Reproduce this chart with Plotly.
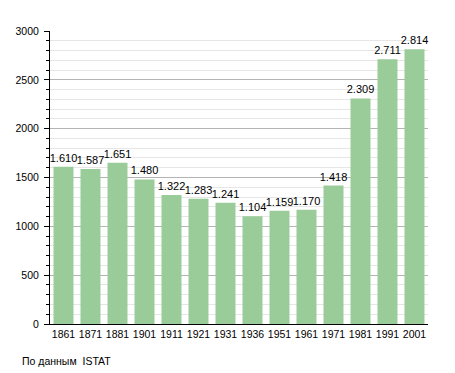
import plotly.graph_objects as go

years = ["1861", "1871", "1881", "1901", "1911", "1921", "1931", "1936", "1951", "1961", "1971", "1981", "1991", "2001"]
population = [1610, 1587, 1651, 1480, 1322, 1283, 1241, 1104, 1159, 1170, 1418, 2309, 2711, 2814]
labels = [f"{v:,}".replace(",", ".") for v in population]

fig = go.Figure(go.Bar(
    x=years, y=population, text=labels, textposition="outside",
    textfont=dict(size=11, color="black"),
    constraintext="none",
    marker=dict(color="#99cc99", line=dict(width=0)),
    cliponaxis=False,
))

# page body has an 8px margin; figure is sized/offset to compensate
fig.update_layout(
    width=447, height=365,
    margin=dict(l=42, r=27, t=23, b=49),
    paper_bgcolor="white", plot_bgcolor="white",
    font=dict(family="Liberation Sans, Arial, sans-serif", size=10.5, color="black"),
    bargap=0.26,
    showlegend=False,
    annotations=[dict(text="По данным  ISTAT", x=-30/378, y=-37/293, xref="paper", yref="paper",
                      xanchor="left", yanchor="middle", showarrow=False,
                      font=dict(size=10.5))],
)

fig.update_yaxes(range=[0, 3000], dtick=500, showline=True, linecolor="black", linewidth=1,
                 ticks="outside", ticklen=5, tickcolor="black", ticklabelstandoff=3,
                 showgrid=True, gridcolor="#b4b4b4", gridwidth=1,
                 zeroline=False, automargin=False,
                 minor=dict(dtick=100, ticks="outside", ticklen=3, tickcolor="black",
                            showgrid=True, gridcolor="#e6e6e6", gridwidth=1))
fig.update_xaxes(type="category", showline=True, linecolor="black", linewidth=1,
                 ticks="", showgrid=False, automargin=False)

fig.write_html("out.html")
